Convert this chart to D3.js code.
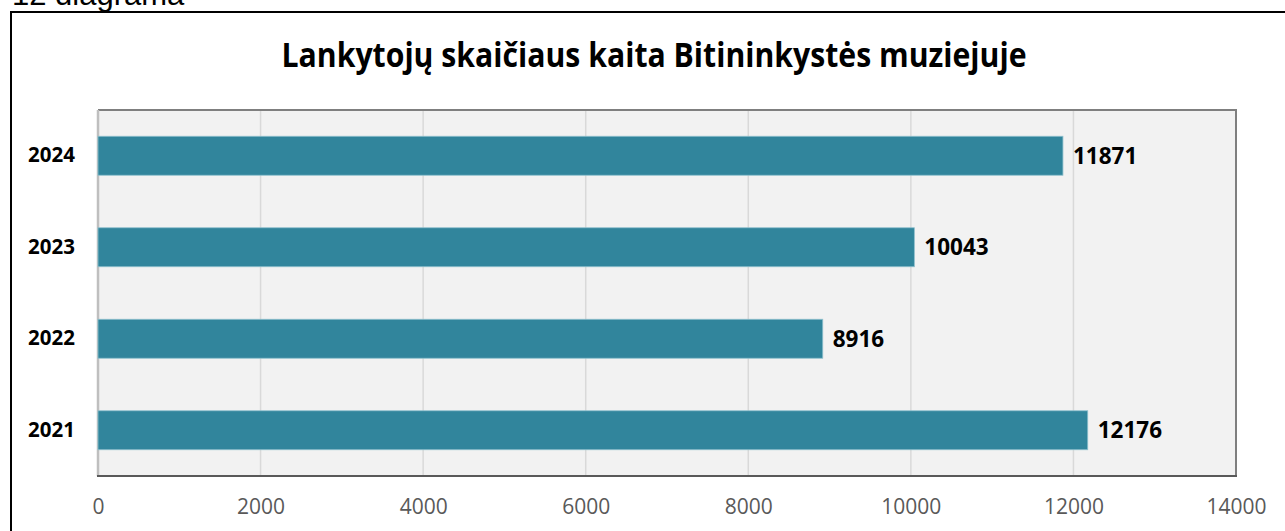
<!DOCTYPE html>
<html>
<head>
<meta charset="utf-8">
<script src="https://cdn.jsdelivr.net/npm/d3@7"></script>
<style>
  body { margin: 0; background: #fff; }
  svg { display: block; }
</style>
</head>
<body>
<div id="chart"></div>
<script>
const years = ["2024", "2023", "2022", "2021"];
const visitors = [11871, 10043, 8916, 12176];
const xTicks = [0, 2000, 4000, 6000, 8000, 10000, 12000, 14000];

const width = 1285, height = 531;
const margin = {top: 110, left: 98, right: 49, bottom: 55};
const plotW = width - margin.left - margin.right;
const plotH = height - margin.top - margin.bottom;

const svg = d3.select('#chart').append('svg')
    .attr('width', width)
    .attr('height', height);

// caption above the frame, cut off at the top
svg.append('text')
    .attr('x', 12)
    .attr('y', 5)
    .attr('font-family', 'Liberation Sans, Arial, sans-serif')
    .attr('font-size', 31)
    .attr('fill', '#000')
    .text('12 diagrama');

// outer frame
svg.append('path')
    .attr('d', `M11,${height + 5} V12 H${width + 5}`)
    .attr('fill', 'none')
    .attr('stroke', '#000')
    .attr('stroke-width', 2);

// title
svg.append('text')
    .attr('x', 654)
    .attr('y', 67)
    .attr('text-anchor', 'middle')
    .attr('font-family', 'Open Sans, sans-serif')
    .attr('font-weight', 'bold')
    .attr('font-size', 33.5)
    .attr('textLength', 745)
    .attr('lengthAdjust', 'spacingAndGlyphs')
    .attr('fill', '#000')
    .text('Lankytojų skaičiaus kaita Bitininkystės muziejuje');

const x = d3.scaleLinear()
    .domain([0, 14000])
    .range([0, plotW]);

const y = d3.scaleBand()
    .domain(years)
    .range([0, plotH])
    .paddingInner(0.574)
    .paddingOuter(0.287);

const g = svg.append('g')
    .attr('transform', `translate(${margin.left},${margin.top})`);

// plot background
g.append('rect')
    .attr('width', plotW)
    .attr('height', plotH)
    .attr('fill', '#f2f2f2');

// gridlines
g.selectAll('.grid')
    .data(xTicks.slice(1, -1))
    .enter()
    .append('line')
      .attr('x1', d => x(d))
      .attr('x2', d => x(d))
      .attr('y1', 0)
      .attr('y2', plotH)
      .attr('stroke', '#d9d9d9')
      .attr('stroke-width', 1.5);

// plot border: top and right
g.append('path')
    .attr('d', `M0,0 H${plotW} V${plotH}`)
    .attr('fill', 'none')
    .attr('stroke', '#7f7f7f')
    .attr('stroke-width', 2);

// y axis line (light)
g.append('line')
    .attr('x1', 0).attr('x2', 0)
    .attr('y1', 0).attr('y2', plotH)
    .attr('stroke', '#bfbfbf')
    .attr('stroke-width', 2.5);

// bars
g.selectAll('.bar')
    .data(years)
    .enter()
    .append('rect')
      .attr('x', 0)
      .attr('y', d => y(d))
      .attr('width', (d, i) => x(visitors[i]))
      .attr('height', y.bandwidth())
      .attr('fill', '#31859c')
      .attr('stroke', '#8ec0cd')
      .attr('stroke-width', 0.8);

// value labels
g.selectAll('.val')
    .data(years)
    .enter()
    .append('text')
      .attr('x', (d, i) => x(visitors[i]) + 10)
      .attr('y', d => y(d) + y.bandwidth() / 2)
      .attr('dy', '0.36em')
      .attr('font-family', 'Open Sans, sans-serif')
      .attr('font-weight', 'bold')
      .attr('font-size', 22.5)
      .attr('fill', '#000')
      .text((d, i) => visitors[i]);

// bottom axis line
g.append('line')
    .attr('x1', -1).attr('x2', plotW + 1)
    .attr('y1', plotH).attr('y2', plotH)
    .attr('stroke', '#595959')
    .attr('stroke-width', 2);

// x axis labels
g.append('g')
    .attr('transform', `translate(0,${plotH})`)
    .call(d3.axisBottom(x).tickValues(xTicks).tickFormat(d3.format('d')).tickSize(0).tickPadding(23))
    .call(a => a.select('.domain').remove())
    .selectAll('text')
      .attr('font-family', 'Open Sans, sans-serif')
      .attr('font-size', 21)
      .attr('fill', '#595959');

// y axis labels
g.append('g')
    .call(d3.axisLeft(y).tickSize(0).tickPadding(23))
    .call(a => a.select('.domain').remove())
    .selectAll('text')
      .attr('font-family', 'Open Sans, sans-serif')
      .attr('font-weight', 'bold')
      .attr('font-size', 20.5)
      .attr('fill', '#000');
</script>
</body>
</html>
